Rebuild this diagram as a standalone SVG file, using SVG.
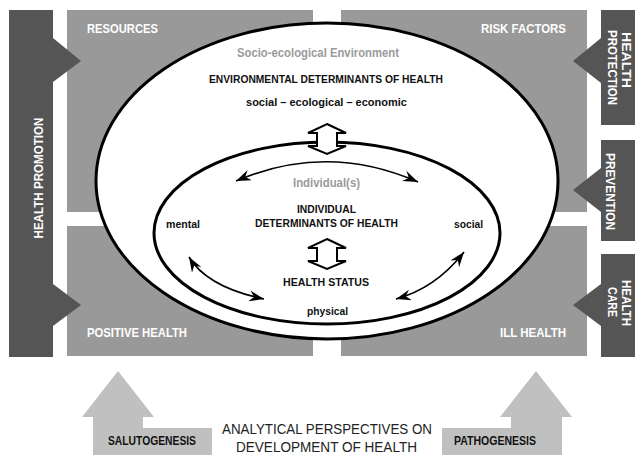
<svg xmlns="http://www.w3.org/2000/svg" width="635" height="455" viewBox="0 0 635 455">
<style>
text{font-family:"Liberation Sans Narrow","Liberation Sans",Arial,sans-serif;font-weight:bold}
.dark{fill:#555555}
.mid{fill:#999999}
.light{fill:#c0c0c0}
.wt{fill:#ffffff;font-size:13px}
.bk{fill:#111111;font-size:11px}
.gr{fill:#9a9a9a;font-size:13px}
.ell{fill:#ffffff;stroke:#000000;stroke-width:3}
.hol{fill:#ffffff;stroke:#000000;stroke-width:2;stroke-linejoin:miter}
.cur{fill:none;stroke:#000000;stroke-width:1.6}
.reg{font-weight:normal;font-size:14px;fill:#222222}
</style>
<defs>
<marker id="ah" markerUnits="userSpaceOnUse" markerWidth="16" markerHeight="11" refX="15" refY="5.5" orient="auto-start-reverse" viewBox="0 0 16 11">
<path d="M0,0 L15,5.5 L0,11 L5,5.5 z" fill="#000000"/>
</marker>
</defs>

<g id="quadrants">
<rect id="resources" class="mid" x="67" y="10" width="246" height="202"/>
<rect id="risk-factors" class="mid" x="341" y="10" width="246" height="202"/>
<rect id="positive-health" class="mid" x="67" y="226" width="246" height="130"/>
<rect id="ill-health" class="mid" x="341" y="226" width="246" height="130"/>
</g>

<g id="health-promotion">
<rect class="dark" x="9" y="10" width="44" height="347"/>
<polygon class="dark" points="53,38 81,61 53,82"/>
<polygon class="dark" points="53,284 81,305 53,326"/>
<text class="wt" transform="translate(43,178) rotate(-90)" text-anchor="middle" textLength="121" lengthAdjust="spacingAndGlyphs">HEALTH PROMOTION</text>
</g>

<g id="health-protection">
<rect class="dark" x="601" y="10" width="34" height="115"/>
<polygon class="dark" points="601,38 573,61 601,83"/>
<text class="wt" style="font-size:12px" transform="translate(622,32) rotate(90)" textLength="56" lengthAdjust="spacingAndGlyphs">HEALTH</text>
<text class="wt" transform="translate(608,30) rotate(90)" textLength="75" lengthAdjust="spacingAndGlyphs">PROTECTION</text>
</g>

<g id="prevention">
<rect class="dark" x="601" y="140" width="34" height="101"/>
<polygon class="dark" points="601,168 573,190 601,212"/>
<text class="wt" transform="translate(606,153) rotate(90)" textLength="77" lengthAdjust="spacingAndGlyphs">PREVENTION</text>
</g>

<g id="health-care">
<rect class="dark" x="601" y="254" width="34" height="103"/>
<polygon class="dark" points="601,284 573,305 601,326"/>
<text class="wt" style="font-size:12px" transform="translate(622,280) rotate(90)" textLength="46" lengthAdjust="spacingAndGlyphs">HEALTH</text>
<text class="wt" transform="translate(608,287) rotate(90)" textLength="30" lengthAdjust="spacingAndGlyphs">CARE</text>
</g>

<g id="quadrant-labels">
<text class="wt" x="87" y="33" textLength="71" lengthAdjust="spacingAndGlyphs">RESOURCES</text>
<text class="wt" x="481" y="33" textLength="85" lengthAdjust="spacingAndGlyphs">RISK FACTORS</text>
<text class="wt" x="87" y="337" textLength="100" lengthAdjust="spacingAndGlyphs">POSITIVE HEALTH</text>
<text class="wt" x="500" y="337" textLength="66" lengthAdjust="spacingAndGlyphs">ILL HEALTH</text>
</g>

<g id="environment">
<ellipse class="ell" cx="327" cy="181" rx="231" ry="158"/>
<text class="gr" x="237" y="57" textLength="162" lengthAdjust="spacingAndGlyphs">Socio-ecological Environment</text>
<text class="bk" x="209" y="83" textLength="234" lengthAdjust="spacingAndGlyphs">ENVIRONMENTAL DETERMINANTS OF HEALTH</text>
<text class="bk" x="246" y="106" textLength="161" lengthAdjust="spacingAndGlyphs">social – ecological – economic</text>
</g>

<g id="individual">
<ellipse class="ell" cx="327" cy="233" rx="173" ry="91"/>
<text class="gr" x="293" y="187" textLength="67" lengthAdjust="spacingAndGlyphs">Individual(s)</text>
<text class="bk" x="297" y="213" textLength="59" lengthAdjust="spacingAndGlyphs">INDIVIDUAL</text>
<text class="bk" x="255" y="227" textLength="143" lengthAdjust="spacingAndGlyphs">DETERMINANTS OF HEALTH</text>
<text class="bk" x="283" y="286" textLength="86" lengthAdjust="spacingAndGlyphs">HEALTH STATUS</text>
<text class="bk" x="307" y="315" textLength="41" lengthAdjust="spacingAndGlyphs">physical</text>
<text class="bk" x="166" y="228" textLength="34" lengthAdjust="spacingAndGlyphs">mental</text>
<text class="bk" x="454" y="228" textLength="29" lengthAdjust="spacingAndGlyphs">social</text>
</g>

<g id="connectors">
<polygon class="hol" points="327,124 346,133 337,133 337,146 346,146 327,154 308,146 317,146 317,133 308,133"/>
<polygon class="hol" points="327,239 346,248 337,248 337,261 346,261 327,269 308,261 317,261 317,248 308,248"/>
<path class="cur" d="M236,181 Q327,142 418,182" marker-start="url(#ah)" marker-end="url(#ah)"/>
<path class="cur" d="M189,257 Q207,287 264,299" marker-start="url(#ah)" marker-end="url(#ah)"/>
<path class="cur" d="M464,252 Q436,288 396,299" marker-start="url(#ah)" marker-end="url(#ah)"/>
</g>

<g id="salutogenesis">
<polygon class="light" points="118,371 154,417 143,417 143,428 212,428 212,455 93,455 93,417 82,417"/>
<text class="bk" x="108" y="445" style="font-size:12px" textLength="88" lengthAdjust="spacingAndGlyphs">SALUTOGENESIS</text>
</g>

<g id="pathogenesis">
<polygon class="light" points="536,371 572,417 562,417 562,455 442,455 442,428 511,428 511,417 500,417"/>
<text class="bk" x="454" y="445" style="font-size:12px" textLength="82" lengthAdjust="spacingAndGlyphs">PATHOGENESIS</text>
</g>

<g id="analytical-perspectives">
<text class="reg" x="222" y="434" textLength="210" lengthAdjust="spacingAndGlyphs">ANALYTICAL PERSPECTIVES ON</text>
<text class="reg" x="236" y="452" textLength="181" lengthAdjust="spacingAndGlyphs">DEVELOPMENT OF HEALTH</text>
</g>
</svg>
